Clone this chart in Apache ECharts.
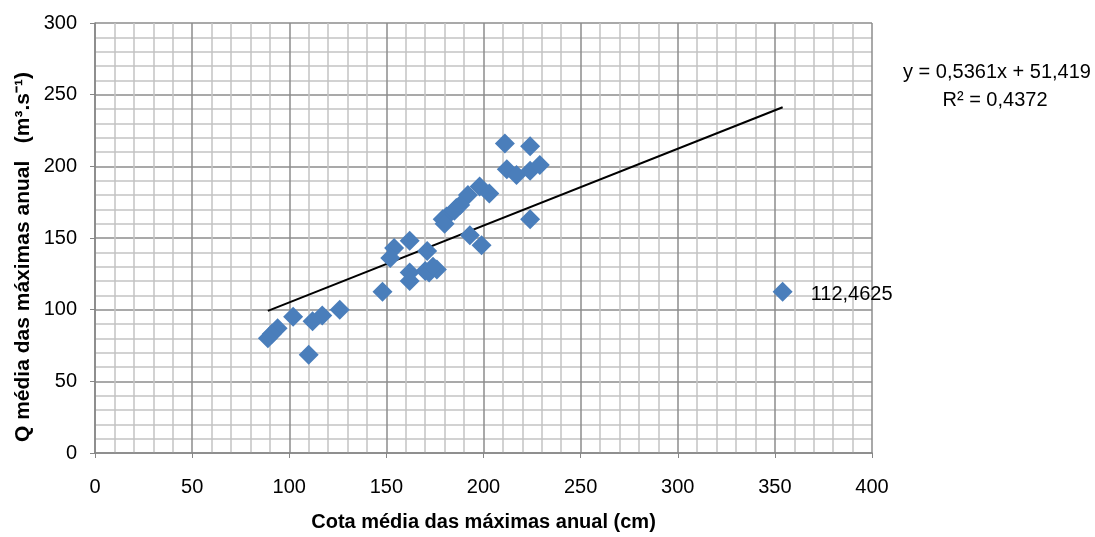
<!DOCTYPE html>
<html><head><meta charset="utf-8">
<script src="https://cdn.jsdelivr.net/npm/echarts@6/dist/echarts.min.js"></script>
<style>html,body{margin:0;padding:0;background:#fff}#c{width:1095px;height:537px}</style>
</head><body><div id="c"></div>
<script>
const xValues = [211,224,212,217,224,229,198,203,192,188,185,181,179,180,186,224,193,199,162,154,152,171,162,162,170,172,176,174,148,126,117,112,102,110,94,91,89,354];
const yValues = [216,214,198,194,197,201,186,181,180,173,169,165,163,160,171,163,152,145,148,143,136,141,126,120,127,126,128,130,112.5,100,96,92,95,68.5,87,83,80,112.4625];
const labelledIndex = 37;
const labelText = '112,4625';
const slope = 0.5361, intercept = 51.419;
const trendX = [89, 354];
const xTitle = 'Cota média das máximas anual (cm)';
const yTitle = 'Q média das máximas anual   (m³.s⁻¹)';
const eqLine1 = 'y = 0,5361x + 51,419';
const eqLine2 = 'R² = 0,4372';

const FONT = 'Liberation Sans, Arial, sans-serif';
const pts = xValues.map((x,i)=>{
  const p = {value:[x,yValues[i]]};
  if (i===labelledIndex) p.label = {show:true, position:'right', distance:18, formatter:labelText, color:'#000', opacity:1, fontSize:20, fontFamily:FONT, offset:[0,3]};
  return p;
});
const trend = trendX.map(x=>[x, slope*x+intercept]);

const chart = echarts.init(document.getElementById('c'), null, {renderer:'canvas'});
chart.setOption({
  animation:false,
  grid: {left:95, top:23, width:777, height:431},
  xAxis: {
    type:'value', min:0, max:400, interval:50,
    axisLine:{show:true, onZero:false, lineStyle:{color:'#868686', width:1.5}},
    axisTick:{show:true, length:5, lineStyle:{color:'#868686'}},
    axisLabel:{color:'#000', fontSize:20, fontFamily:FONT, margin:24},
    splitLine:{show:true, lineStyle:{color:'#8c8c8c', width:1.5}},
    minorTick:{show:true, splitNumber:5, length:0},
    minorSplitLine:{show:true, lineStyle:{color:'#c4c4c4', width:1.5}},
    name: xTitle, nameLocation:'middle', nameGap:59,
    nameTextStyle:{color:'#000', fontSize:20, fontWeight:'bold', fontFamily:FONT}
  },
  yAxis: {
    type:'value', min:0, max:300, interval:50,
    axisLine:{show:true, onZero:false, lineStyle:{color:'#868686', width:1.5}},
    axisTick:{show:true, length:5, lineStyle:{color:'#868686'}},
    axisLabel:{color:'#000', fontSize:20, fontFamily:FONT, margin:18},
    splitLine:{show:true, lineStyle:{color:'#8c8c8c', width:1.5}},
    minorTick:{show:true, splitNumber:5, length:0},
    minorSplitLine:{show:true, lineStyle:{color:'#c4c4c4', width:1.5}}
  },
  series: [
    {type:'line', data:trend, symbol:'none', lineStyle:{color:'#000', width:2}, z:3, silent:true},
    {type:'scatter', data:pts, symbol:'diamond', symbolSize:20, itemStyle:{color:'#4a7ebb', opacity:1}, z:4}
  ],
  graphic: [
    {type:'text', x:23, y:257, rotation:Math.PI/2, style:{text:yTitle, fontSize:21, fontWeight:'bold', fontFamily:FONT, fill:'#000', align:'center', verticalAlign:'middle'}},
    {type:'text', x:997, y:72, style:{text:eqLine1, fontSize:20, fontFamily:FONT, fill:'#000', align:'center', verticalAlign:'middle'}},
    {type:'text', x:995, y:100, style:{text:eqLine2, fontSize:20, fontFamily:FONT, fill:'#000', align:'center', verticalAlign:'middle'}}
  ]
});
</script></body></html>
